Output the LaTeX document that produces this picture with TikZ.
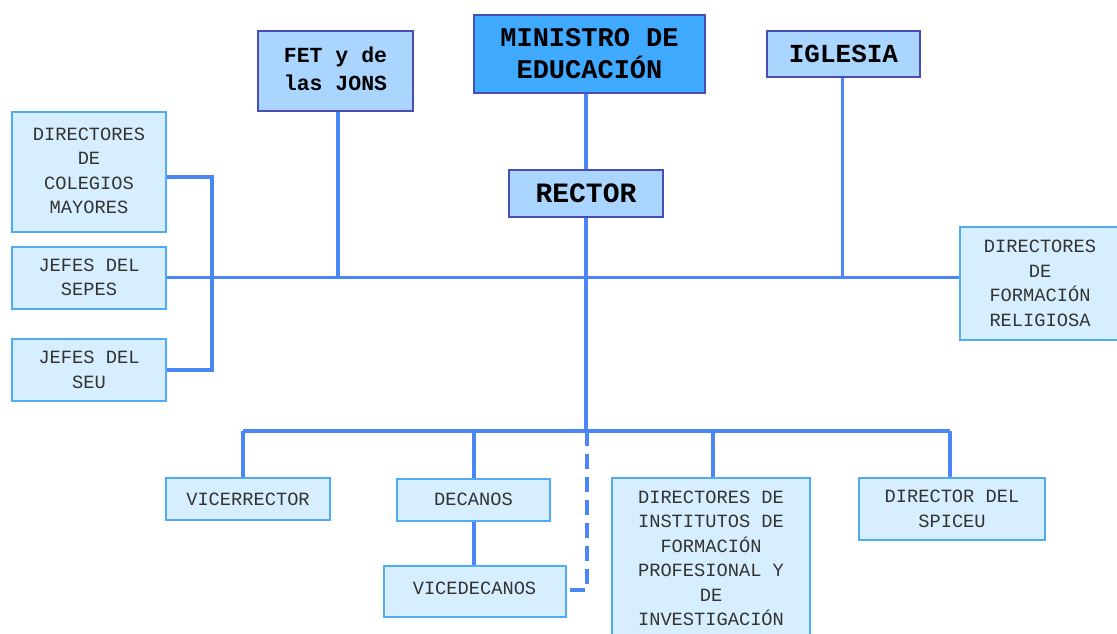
\documentclass[tikz,border=0pt]{standalone}
\usepackage{fontspec}
\newfontfamily\cour{Liberation Mono}
\definecolor{lightfill}{HTML}{D6EEFD}
\definecolor{lightedge}{HTML}{4FABF6}
\definecolor{midfill}{HTML}{AAD5FF}
\definecolor{darkedge}{HTML}{4A4DB3}
\definecolor{topfill}{HTML}{3FAAFF}
\definecolor{linecol}{HTML}{4A86F6}
\definecolor{txt}{HTML}{333333}
\tikzset{
  lbox/.style={draw=lightedge, fill=lightfill, line width=2pt, inner sep=0pt, align=center,
    text=txt, font=\cour\fontsize{18.7}{24.5}\selectfont},
  mbox/.style={draw=darkedge, fill=midfill, line width=2pt, inner sep=0pt, align=center,
    text=black, font=\cour\bfseries},
  conn/.style={draw=linecol, line width=3.2pt},
  dconn/.style={conn, dash pattern=on 15pt off 8pt}
}
\begin{document}
\begin{tikzpicture}[x=1pt,y=-1pt]
\clip (0,0) rectangle (1117,634);
\fill[white] (0,0) rectangle (1117,634);
% top row
\node[mbox, minimum width=155pt, minimum height=80pt, font=\cour\bfseries\fontsize{21.5}{28}\selectfont] (FET) at (335.5,71) {\raisebox{3pt}{\begin{tabular}{@{}c@{}}FET y de\\las JONS\end{tabular}}};
\node[mbox, fill=topfill, minimum width=231pt, minimum height=78pt, font=\cour\bfseries\fontsize{27}{32}\selectfont] (MIN) at (589.5,54) {MINISTRO DE\\EDUCACIÓN};
\node[mbox, minimum width=154pt, minimum height=47pt, font=\cour\bfseries\fontsize{28}{32}\selectfont] (REC) at (586,193.5) {RECTOR};
\node[mbox, minimum width=153pt, minimum height=46pt, font=\cour\bfseries\fontsize{26}{30}\selectfont] (IGL) at (843.5,54) {IGLESIA};
% left column
\node[lbox, minimum width=154pt, minimum height=120pt] (COL) at (89,172) {\raisebox{3pt}{\begin{tabular}{@{}c@{}}DIRECTORES\\DE\\COLEGIOS\\MAYORES\end{tabular}}};
\node[lbox, minimum width=154pt, minimum height=62pt] (SEPES) at (89,277.5) {JEFES DEL\\SEPES};
\node[lbox, minimum width=154pt, minimum height=62pt] (SEU) at (89,370) {JEFES DEL\\SEU};
% right
\node[lbox, minimum width=160pt, minimum height=113pt] (REL) at (1040,283.5) {DIRECTORES\\DE\\FORMACIÓN\\RELIGIOSA};
% bottom row
\node[lbox, minimum width=164pt, minimum height=42pt] (VICER) at (248,499) {VICERRECTOR};
\node[lbox, minimum width=153pt, minimum height=42pt] (DEC) at (473.5,499.5) {DECANOS};
\node[lbox, minimum width=182pt, minimum height=51pt] (VICED) at (474.5,591) {\raisebox{6pt}{VICEDECANOS}};
\node[lbox, minimum width=198pt, minimum height=161pt] (INST) at (711,558.5) {DIRECTORES DE\\INSTITUTOS DE\\FORMACIÓN\\PROFESIONAL Y\\DE\\INVESTIGACIÓN};
\node[lbox, minimum width=186pt, minimum height=62pt] (SPI) at (952,509) {DIRECTOR DEL\\SPICEU};
% helper coordinates
\coordinate (hb) at (585,431);
\coordinate (b1) at (243,431);
\coordinate (b2) at (474,431);
\coordinate (b3) at (713,431);
\coordinate (b4) at (950,431);
% connectors
\draw[conn] (MIN.south -| REC.north) -- (REC.north);
\draw[conn] (SEPES.east) -- (SEPES.east -| REL.west);
\draw[conn] ([xshift=2.5pt]FET.south) -- ([xshift=2.5pt]FET.south |- SEPES.east);
\draw[conn] ([xshift=-1pt]IGL.south) -- ([xshift=-1pt]IGL.south |- SEPES.east);
\draw[conn] (REC.south) -- (REC.south |- hb);
\draw[conn] ([yshift=-5pt]COL.east) -| ([xshift=45pt]SEU.east) -- (SEU.east);
\draw[conn] (b1) -- (b4);
\draw[conn] (b1) -- (b1 |- VICER.north);
\draw[conn] (b2) -- (b2 |- DEC.north);
\draw[conn] (b3) -- (b3 |- INST.north);
\draw[conn] (b4) -- (b4 |- SPI.north);
\draw[conn] (DEC.south -| b2) -- (VICED.north -| b2);
\draw[dconn] ([xshift=2pt]hb) |- ([yshift=1pt]VICED.east);
\end{tikzpicture}
\end{document}
